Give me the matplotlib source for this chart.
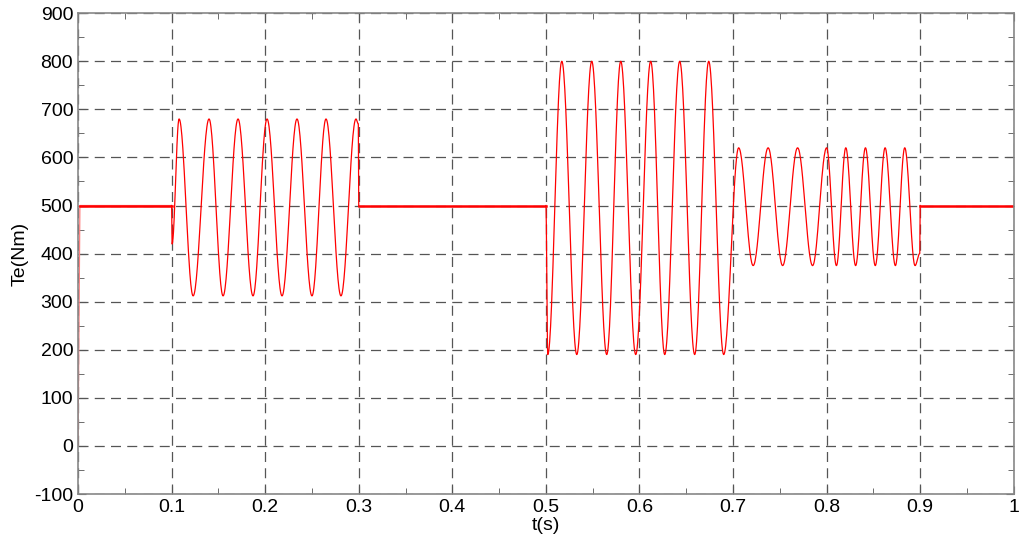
import numpy as np
import matplotlib
matplotlib.use('Agg')
import matplotlib.pyplot as plt
import matplotlib.ticker as ticker

plt.rcParams['font.family'] = ['Liberation Sans', 'DejaVu Sans']
plt.rcParams['axes.unicode_minus'] = False

# turning points (t in s, Te in Nm)
start_t = [0.0, 0.002, 0.1]
start_v = [0, 500, 500]

osc1_t = [0.1, 0.1005, 0.108, 0.123, 0.140, 0.155, 0.171, 0.187, 0.202, 0.218,
          0.234, 0.250, 0.265, 0.281, 0.297, 0.2995, 0.300]
osc1_v = [500, 420, 680, 312, 680, 312, 680, 312, 680, 312,
          680, 312, 680, 312, 680, 670, 500]

flat2_t = [0.300, 0.500]
flat2_v = [500, 500]

osc2_t = [0.500, 0.502, 0.517, 0.533, 0.549, 0.565, 0.580, 0.596, 0.612, 0.627,
          0.643, 0.659, 0.674, 0.690, 0.706, 0.7215, 0.7375, 0.753, 0.769, 0.785,
          0.800, 0.8105, 0.8205, 0.831, 0.8415, 0.852, 0.8625, 0.8735, 0.8835, 0.8945,
          0.8995, 0.900]
osc2_v = [500, 190, 800, 190, 800, 190, 800, 190, 800, 190,
          800, 190, 800, 190, 620, 375, 620, 375, 620, 375,
          620, 375, 620, 375, 620, 375, 620, 375, 620, 375,
          400, 500]

flat3_t = [0.900, 1.0]
flat3_v = [500, 500]


def smooth(ts, vs, n=30):
    # half-cosine between consecutive turning points
    xs, ys = [], []
    for i in range(len(ts) - 1):
        s = np.linspace(0, 1, n, endpoint=False)
        w = (1 - np.cos(np.pi * s)) / 2
        xs.append(ts[i] + (ts[i + 1] - ts[i]) * s)
        ys.append(vs[i] + (vs[i + 1] - vs[i]) * w)
    xs.append([ts[-1]])
    ys.append([vs[-1]])
    return np.concatenate(xs), np.concatenate(ys)


fig = plt.figure(figsize=(10.24, 5.48), dpi=100)
ax = fig.add_axes([0.0762, 0.0985, 0.9138, 0.8775])

x1, y1 = smooth(osc1_t, osc1_v)
x2, y2 = smooth(osc2_t, osc2_v)

ax.plot(start_t, start_v, color='#ff8080', lw=0.9)
ax.plot(x1, y1, color='red', lw=0.9)
ax.plot(x2, y2, color='red', lw=0.9)
ax.plot(start_t[1:], start_v[1:], color='red', lw=1.8)
ax.plot(flat2_t, flat2_v, color='red', lw=1.8)
ax.plot(flat3_t, flat3_v, color='red', lw=1.8)

ax.set_xlim(0, 1)
ax.set_ylim(-100, 900)
ax.xaxis.set_major_locator(ticker.MultipleLocator(0.1))
ax.xaxis.set_minor_locator(ticker.MultipleLocator(0.05))
ax.yaxis.set_major_locator(ticker.MultipleLocator(100))
ax.yaxis.set_minor_locator(ticker.MultipleLocator(50))
ax.xaxis.set_major_formatter(ticker.FuncFormatter(lambda v, p: ('%g' % round(v, 2))))

ax.grid(True, which='major', color='#555555', linestyle=(0, (8, 5)), lw=0.9)
ax.tick_params(which='both', direction='in', top=True, right=True,
               color='#555555', labelsize=14)
ax.tick_params(which='major', length=6)
ax.tick_params(which='minor', length=4)
for s in ax.spines.values():
    s.set_color('#888888')
    s.set_linewidth(1.2)

ax.set_xlabel('t(s)', fontsize=14, labelpad=1)
ax.set_ylabel('Te(Nm)', fontsize=14, labelpad=4)

plt.savefig('out.png', dpi=100)
